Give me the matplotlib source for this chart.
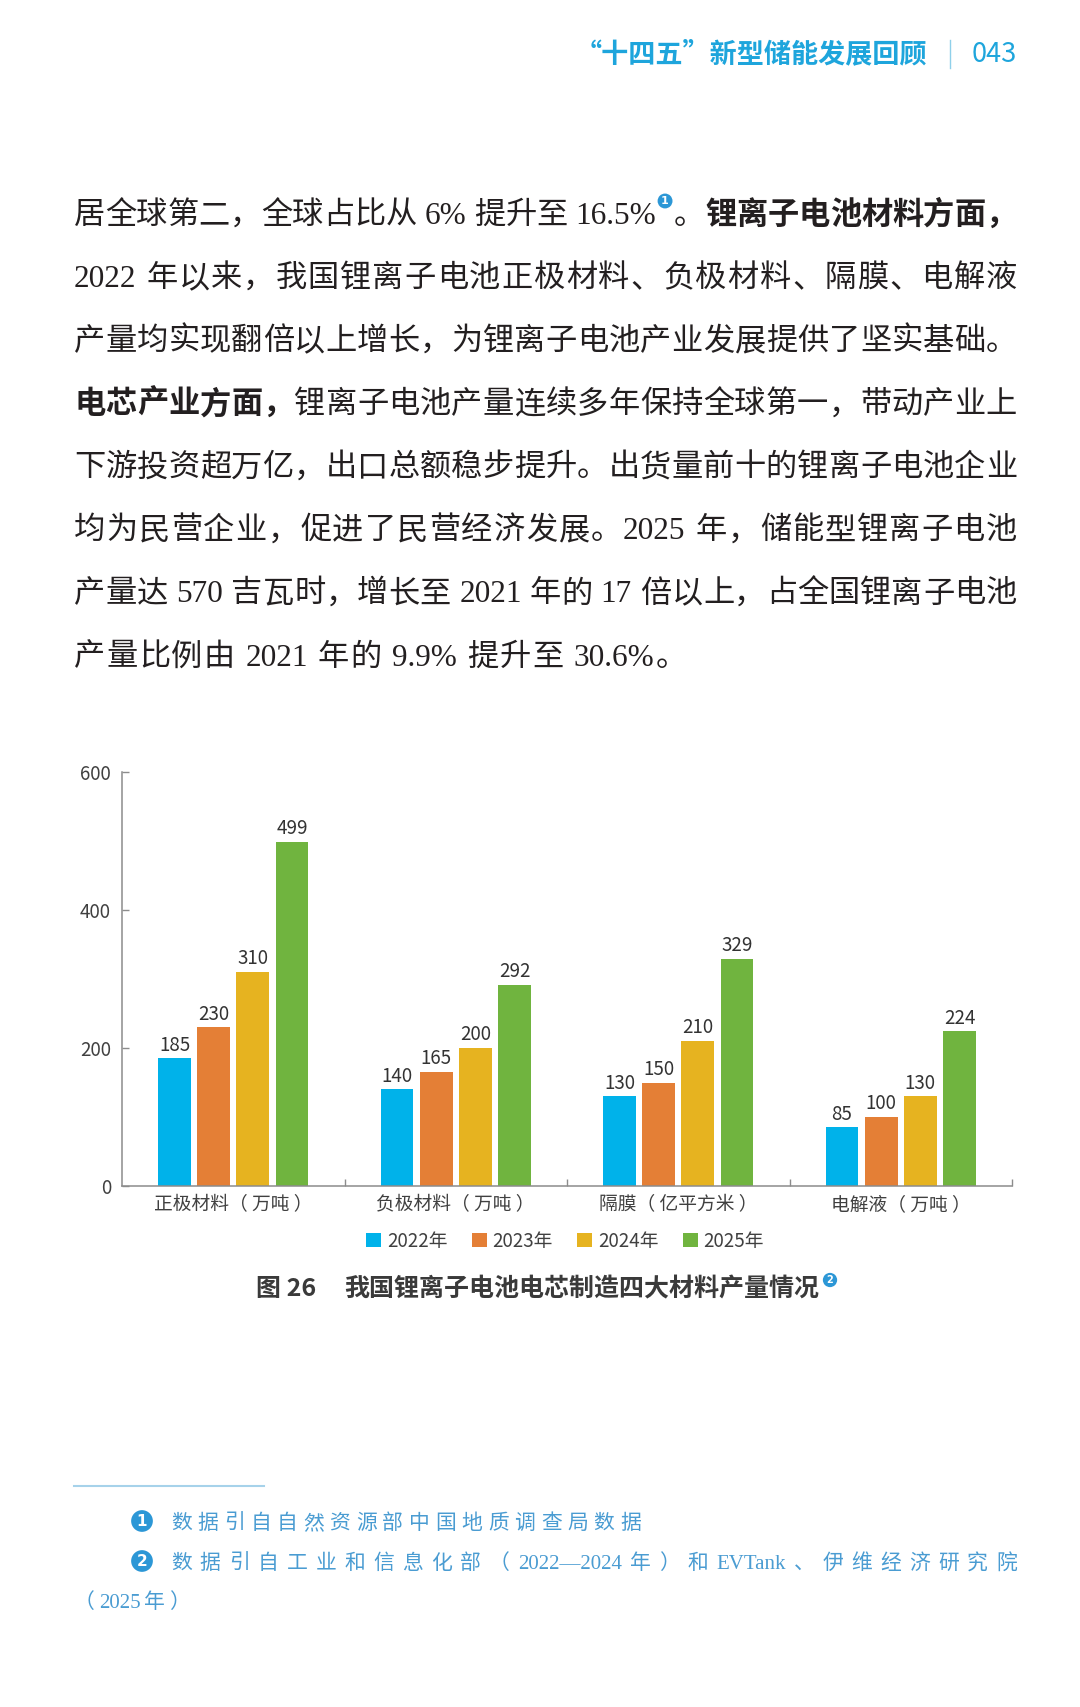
import matplotlib
matplotlib.use('Agg')
import matplotlib.pyplot as plt
from matplotlib.lines import Line2D

plt.rcParams['font.family'] = ['Noto Sans CJK SC', 'DejaVu Sans']
plt.rcParams['axes.unicode_minus'] = False

W, H = 1080, 1707

# chart data
categories = ['正极材料（ 万吨 ）', '负极材料（ 万吨 ）', '隔膜（ 亿平方米 ）', '电解液（ 万吨 ）']
years = ['2022年', '2023年', '2024年', '2025年']
v2022 = [185, 140, 130, 85]
v2023 = [230, 165, 150, 100]
v2024 = [310, 200, 210, 130]
v2025 = [499, 292, 329, 224]
bar_colors = ['#00b2ea', '#e47f36', '#e6b320', '#70b43f']
yticks = [0, 200, 400, 600]

# page text
header_title = '“十四五”新型储能发展回顾'
page_no = '043'
body_lines = [
    [('居全球第二，全球占比从 6% 提升至 16.5%', 'n'), ('1', 'note'), ('。', 'n'),
     ('锂离子电池材料方面，', 'b')],
    [('2022 年以来，我国锂离子电池正极材料、负极材料、隔膜、电解液', 'n')],
    [('产量均实现翻倍以上增长，为锂离子电池产业发展提供了坚实基础。', 'n')],
    [('电芯产业方面，', 'b'), ('锂离子电池产量连续多年保持全球第一，带动产业上', 'n')],
    [('下游投资超万亿，出口总额稳步提升。出货量前十的锂离子电池企业', 'n')],
    [('均为民营企业，促进了民营经济发展。2025 年，储能型锂离子电池', 'n')],
    [('产量达 570 吉瓦时，增长至 2021 年的 17 倍以上，占全国锂离子电池', 'n')],
    [('产量比例由 2021 年的 9.9% 提升至 30.6%。', 'n')],
]
caption_no = '图 26'
caption_text = '我国锂离子电池电芯制造四大材料产量情况'
footnotes = [
    ('1', '数据引自自然资源部中国地质调查局数据'),
    ('2', '数据引自工业和信息化部（2022—2024 年）和 EVTank、伊维经济研究院'),
]
footnote_tail = '（2025 年）'

BLUE = '#1ea5dc'
NOTE_BLUE = '#2c97d6'
FOOT_BLUE = '#4a9cd2'
TEXT = '#231f20'

fig = plt.figure(figsize=(W / 100, H / 100), dpi=100)
renderer = fig.canvas.get_renderer()


def put(x, y, s, **kw):
    return fig.text(x / W, 1 - y / H, s, **kw)


def width_of(s, **kw):
    t = put(0, 0, s, **kw)
    w = t.get_window_extent(renderer).width
    t.remove()
    return w


def split_tokens(s):
    out, buf = [], ''
    for ch in s:
        if ch == ' ' or ord(ch) >= 0x2E80:
            if buf:
                out.append(buf)
                buf = ''
            out.append(ch)
        else:
            buf += ch
    if buf:
        out.append(buf)
    return out


def note(x, y, s, size):
    put(x, y, s, ha='center', va='center', color='white', fontsize=size,
        weight='bold', family=['DejaVu Sans'],
        bbox=dict(boxstyle='circle,pad=0.22', fc=NOTE_BLUE, ec='none'))


def draw_line(segs, x0, yc, styles, x1=None, gap=0.0):
    items = []
    for text, key in segs:
        st = styles[key]
        if key == 'note':
            items.append((text, key, st['w']))
            continue
        for tok in split_tokens(text):
            if tok == ' ':
                if st['space'] is not None:
                    items.append((tok, key, st['space']))
            else:
                items.append((tok, key, width_of(tok, **st['kw'])))
    total = sum(w for _, _, w in items)
    if x1 is not None:
        gap = (x1 - x0 - total) / (len(items) - 1)
    x = x0
    for tok, key, w in items:
        st = styles[key]
        if key == 'note':
            note(x + w / 2, yc + st['dy'], tok, st['size'])
        elif tok != ' ':
            put(x, yc + st['base'], tok, ha='left', va='baseline', **st['kw'])
        x += w + gap


# header
put(1017, 54, page_no, ha='right', va='center', fontsize=19.5, color=BLUE)
fig.add_artist(Line2D([950 / W, 950 / W], [1 - 40 / H, 1 - 68 / H],
                      transform=fig.transFigure, color='#8fd0ea', lw=1))
put(927, 54, header_title, ha='right', va='center', fontsize=19.5,
    weight='bold', color=BLUE)

# body paragraph
body_fs = 22.5
body_px = body_fs * 100 / 72
serif = ['Liberation Serif', 'Noto Sans CJK SC']
body_styles = {
    'n': {'kw': dict(fontsize=body_fs, family=serif, color=TEXT),
          'space': 0.25 * body_px, 'base': 0.38 * body_px},
    'b': {'kw': dict(fontsize=body_fs, family=serif, color=TEXT, weight='bold'),
          'space': 0.25 * body_px, 'base': 0.38 * body_px},
    'note': {'w': 18, 'dy': -11, 'size': 8},
}
for i, segs in enumerate(body_lines):
    yc = 212 + 63.1 * i
    if i == len(body_lines) - 1:
        draw_line(segs, 74, yc, body_styles, gap=1.2)
    else:
        draw_line(segs, 74, yc, body_styles, x1=1017)

# bar chart
ax = fig.add_axes([122 / W, 1 - 1186 / H, (1012 - 122) / W, (1186 - 772) / H])
series = [v2022, v2023, v2024, v2025]
xs = list(range(len(categories)))
pitch, bw = 0.176, 0.147
handles = []
for k, vals in enumerate(series):
    pos = [x + (k - 1.5) * pitch for x in xs]
    bars = ax.bar(pos, vals, width=bw, color=bar_colors[k], label=years[k], zorder=2)
    ax.bar_label(bars, padding=2, fontsize=13.5, color='#333333')
    handles.append(bars)

ax.set_xlim(-0.5, 3.5)
ax.set_ylim(0, 600)
ax.set_yticks(yticks)
ax.set_xticks([0.5, 1.5, 2.5, 3.5])
ax.set_xticklabels([])
ax.set_xticks(xs, minor=True)
ax.set_xticklabels(categories, minor=True)
ax.tick_params(axis='x', which='minor', length=0, pad=6, labelsize=13.5,
               labelcolor='#404040')
ax.tick_params(axis='x', which='major', direction='in', length=5, width=1,
               color='#8c8c8c')
ax.tick_params(axis='y', direction='in', length=5, width=1, color='#8c8c8c',
               labelsize=13.5, labelcolor='#404040', pad=8)
for side in ['top', 'right']:
    ax.spines[side].set_visible(False)
for side in ['left', 'bottom']:
    ax.spines[side].set_color('#8c8c8c')
    ax.spines[side].set_linewidth(1.1)

fig.legend(handles, years, loc='center', bbox_to_anchor=(565 / W, 1 - 1241 / H),
           ncol=4, frameon=False, fontsize=13.5, handlelength=0.8,
           handleheight=0.8, handletextpad=0.3, columnspacing=1.3,
           labelcolor='#404040')

# caption
put(256, 1289, caption_no, ha='left', va='center', fontsize=18,
    weight='bold', color='#3a3a3a')
put(344, 1289, caption_text, ha='left', va='center', fontsize=18,
    weight='bold', color='#3a3a3a')
note(830, 1280, '2', 7)

# footnotes
fig.add_artist(Line2D([74 / W, 264 / W], [1 - 1486 / H, 1 - 1486 / H],
                      transform=fig.transFigure, color='#a6d2ea', lw=1.5))
foot_fs = 15
foot_px = foot_fs * 100 / 72
foot_styles = {
    'n': {'kw': dict(fontsize=foot_fs, family=serif, color=FOOT_BLUE),
          'space': None, 'base': 0.38 * foot_px},
}
foot_y = [1521, 1561, 1600]
foot_ends = [641, 1017]
for (num, text), yc, x1 in zip(footnotes, foot_y, foot_ends):
    note(142, yc, num, 11)
    draw_line([(text, 'n')], 171, yc, foot_styles, x1=x1)
draw_line([(footnote_tail, 'n')], 74, foot_y[2], foot_styles, x1=190)

fig.savefig('out.png', dpi=100)
